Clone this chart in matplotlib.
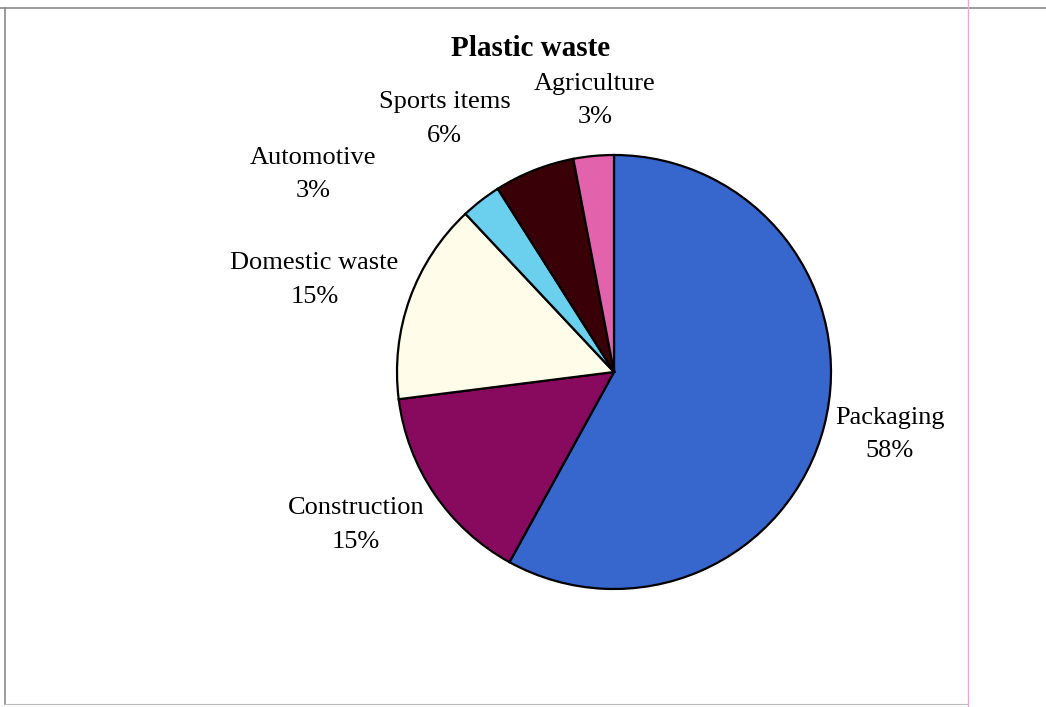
import matplotlib
matplotlib.use('Agg')
import matplotlib.pyplot as plt
from matplotlib.lines import Line2D

categorias = ['Packaging', 'Construction', 'Domestic waste', 'Automotive', 'Sports items', 'Agriculture']
porcentajes = [58, 15, 15, 3, 6, 3]
colores = ['#3766CC', '#880A5E', '#FFFDEA', '#6AD0EE', '#3A0008', '#E263AC']

# posicion de las etiquetas (unidades del radio)
pos_etiquetas = [(1.27, -0.29), (-1.19, -0.705), (-1.38, 0.424), (-1.387, 0.908), (-0.78, 1.166), (-0.088, 1.253)]

plt.rcParams['font.family'] = ['Liberation Serif', 'DejaVu Serif']

fig = plt.figure(figsize=(10.46, 7.07), dpi=100)
fig.patch.set_facecolor('white')

# marco gris y linea rosa
W, H = 1046, 707
fig.add_artist(Line2D([5 / W, 5 / W], [1 - 8 / H, 3 / H], color='#8a8a8a', lw=1.2))
fig.add_artist(Line2D([0, 1], [1 - 8 / H, 1 - 8 / H], color='#8a8a8a', lw=1.2))
fig.add_artist(Line2D([5 / W, 968 / W], [3 / H, 3 / H], color='#bbbbbb', lw=0.8))
fig.add_artist(Line2D([968 / W, 968 / W], [0, 1], color='#e6a6e6', lw=1.0))

r = 217
cx, cy = 614, 372
ax = fig.add_axes([(cx - r) / W, (H - cy - r) / H, 2 * r / W, 2 * r / H])
ax.pie(porcentajes, colors=colores, startangle=90, counterclock=False,
       wedgeprops={'edgecolor': 'black', 'linewidth': 1.6})
ax.set_xlim(-1, 1)
ax.set_ylim(-1, 1)
ax.set_aspect('equal')
ax.axis('off')

for nombre, valor, (px, py) in zip(categorias, porcentajes, pos_etiquetas):
    ax.text(px, py, '{}\n{}%'.format(nombre, valor), ha='center', va='center',
            fontsize=19, linespacing=1.65, clip_on=False)

fig.text(531 / W, 1 - 48 / H, 'Plastic waste', ha='center', va='center',
         fontsize=21, fontweight='bold')

plt.savefig('out.png', dpi=100)
